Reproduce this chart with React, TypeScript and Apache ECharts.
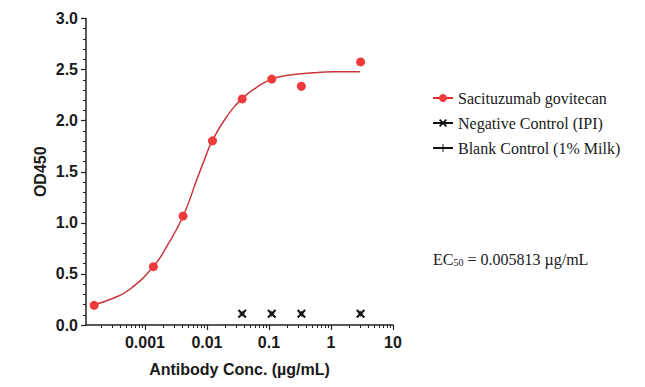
import React, { useEffect, useRef } from "react";
import * as echarts from "echarts";

// Measured points (µg/mL, OD450)
const concSG = [0.000152, 0.00137, 0.00412, 0.0123, 0.037, 0.111, 0.333, 3];
const odSG = [0.193, 0.571, 1.066, 1.803, 2.213, 2.407, 2.337, 2.575];

const concNeg = [0.037, 0.111, 0.333, 3];
const odNeg = [0.11, 0.11, 0.11, 0.11];

const concBlank = [0.037, 0.111, 0.333, 3];
const odBlank = [0.11, 0.11, 0.11, 0.11];

// Fitted curve
const fitConc = [0.000147, 0.000308, 0.000572, 0.00136, 0.00224, 0.00415, 0.00682, 0.00929, 0.01217, 0.0208, 0.0363, 0.0634, 0.1107, 0.218, 0.519, 1.09, 2.94];
const fitOD = [0.196, 0.262, 0.35, 0.57, 0.766, 1.069, 1.419, 1.631, 1.803, 2.038, 2.211, 2.326, 2.407, 2.446, 2.469, 2.478, 2.478];

const xMajorTicks = [0.001, 0.01, 0.1, 1, 10];
const xMajorLabels = ["0.001", "0.01", "0.1", "1", "10"];

const seriesNames = ["Sacituzumab govitecan", "Negative Control (IPI)", "Blank Control (1% Milk)"];

const X_PATH = "path://M1.6,0 L5,3.4 L8.4,0 L10,1.6 L6.6,5 L10,8.4 L8.4,10 L5,6.6 L1.6,10 L0,8.4 L3.4,5 L0,1.6 Z";
const PLUS_PATH = "path://M4.4,0 H5.6 V4.4 H10 V5.6 H5.6 V10 H4.4 V5.6 H0 V4.4 H4.4 Z";

const lg = (v: number) => Math.log10(v);

export default function App() {
  const ref = useRef<HTMLDivElement>(null);
  useEffect(() => {
    if (!ref.current) return;
    const chart = echarts.init(ref.current, null, { renderer: "svg" });
    const minorVals: number[] = [];
    for (let e = -4; e <= 0; e++) {
      for (let k = 2; k <= 9; k++) {
        const v = k * Math.pow(10, e);
        if (lg(v) > -3.95) minorVals.push(lg(v));
      }
    }
    const axisColor = "#222";
    const labelFont = { fontFamily: "Liberation Sans", fontWeight: "bold" as const, fontSize: 16, color: "#1a1a1a" };
    chart.setOption({
      animation: false,
      backgroundColor: "#fff",
      grid: { left: 86, right: 252, top: 18.5, bottom: 62, containLabel: false },
      xAxis: [
        {
          type: "value",
          min: -3.95,
          max: 1,
          name: "Antibody Conc. (µg/mL)",
          nameLocation: "middle",
          nameGap: 36,
          nameTextStyle: { fontFamily: "Liberation Sans", fontWeight: "bold", fontSize: 16, color: "#1a1a1a" },
          axisLine: { show: true, onZero: false, lineStyle: { color: axisColor, width: 1.5 } },
          axisTick: { show: true, length: 5, lineStyle: { color: axisColor, width: 1.2 }, customValues: xMajorTicks.map(lg) },
          axisLabel: {
            ...labelFont,
            margin: 9,
            customValues: xMajorTicks.map(lg),
            formatter: (v: number) => {
              const i = xMajorTicks.findIndex((t) => Math.abs(lg(t) - v) < 1e-6);
              return i >= 0 ? xMajorLabels[i] : "";
            },
          },
          splitLine: { show: false },
        },
        {
          type: "value",
          min: -3.95,
          max: 1,
          position: "bottom",
          axisLine: { show: false, onZero: false },
          axisTick: { show: true, length: 3, lineStyle: { color: axisColor, width: 1 }, customValues: minorVals },
          axisLabel: { show: false },
          splitLine: { show: false },
        },
      ],
      yAxis: {
        type: "value",
        min: 0,
        max: 3,
        interval: 0.5,
        name: "OD450",
        nameLocation: "middle",
        nameGap: 38,
        nameTextStyle: { fontFamily: "Liberation Sans", fontWeight: "bold", fontSize: 16, color: "#1a1a1a" },
        axisLine: { show: true, onZero: false, lineStyle: { color: axisColor, width: 1.5 } },
        axisTick: { show: true, length: 5, lineStyle: { color: axisColor, width: 1.2 } },
        minorTick: { show: true, splitNumber: 5, length: 3, lineStyle: { color: axisColor, width: 1 } },
        axisLabel: { ...labelFont, margin: 8, formatter: (v: number) => v.toFixed(1) },
        splitLine: { show: false },
        minorSplitLine: { show: false },
      },
      legend: {
        orient: "vertical",
        left: 427,
        top: 85,
        itemWidth: 20,
        itemHeight: 10,
        itemGap: 9,
        textStyle: { fontFamily: "Liberation Serif", fontSize: 16, color: "#1a1a1a" },
        data: [
          { name: seriesNames[0], lineStyle: { color: "#e8262a", width: 2, opacity: 1 } },
          { name: seriesNames[1], lineStyle: { color: "#111", width: 2, opacity: 1 } },
          { name: seriesNames[2], lineStyle: { color: "#111", width: 2, opacity: 1 } },
        ],
      },
      series: [
        {
          name: "fit",
          type: "line",
          smooth: 0.5,
          symbol: "none",
          lineStyle: { color: "#c8373d", width: 1.5 },
          data: fitConc.map((c, i) => [lg(c), fitOD[i]]),
          z: 2,
        },
        {
          name: seriesNames[0],
          type: "line",
          symbol: "circle",
          symbolSize: 9,
          itemStyle: { color: "#f03a3a" },
          lineStyle: { width: 0, opacity: 0, color: "#e8262a" },
          data: concSG.map((c, i) => [lg(c), odSG[i]]),
          z: 3,
        },
        {
          name: seriesNames[2],
          type: "line",
          symbol: PLUS_PATH,
          symbolSize: 6,
          itemStyle: { color: "#111" },
          lineStyle: { width: 0, opacity: 0, color: "#111" },
          data: concBlank.map((c, i) => [lg(c), odBlank[i]]),
          z: 3,
        },
        {
          name: seriesNames[1],
          type: "line",
          symbol: X_PATH,
          symbolSize: 9,
          itemStyle: { color: "#111" },
          lineStyle: { width: 0, opacity: 0, color: "#111" },
          data: concNeg.map((c, i) => [lg(c), odNeg[i]]),
          z: 4,
        },
      ],
      graphic: [
        {
          type: "text",
          left: 433,
          top: 251,
          style: {
            text: "{a|EC}{s|50}{a| = 0.005813 µg/mL}",
            rich: {
              a: { fontFamily: "Liberation Serif", fontSize: 16, fill: "#1a1a1a", lineHeight: 20 },
              s: { fontFamily: "Liberation Serif", fontSize: 10, fill: "#1a1a1a", lineHeight: 20, padding: [6, 0, 0, 0] },
            },
          },
        },
      ],
    });
    return () => chart.dispose();
  }, []);
  return <div ref={ref} style={{ width: 645, height: 387, position: "absolute", left: 0, top: 0 }} />;
}
